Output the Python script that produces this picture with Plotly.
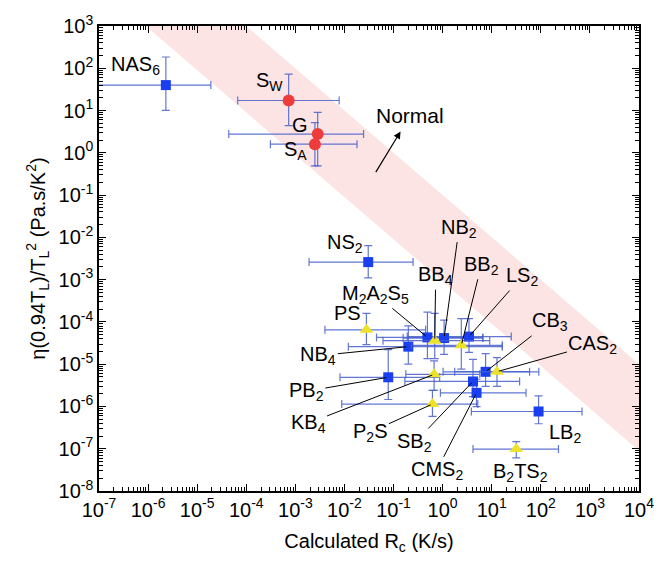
import math
import plotly.graph_objects as go

# ---------------- data ----------------
names = ["NAS6", "SW", "G", "SA", "NS2", "PS", "M2A2S5", "BB4", "NB2", "LS2", "BB2",
         "NB4", "PB2", "KB4", "P2S", "SB2", "CMS2", "CB3", "CAS2", "LB2", "B2TS2"]
groups = ["blue", "red", "red", "red", "blue", "yellow", "blue", "yellow", "blue", "blue", "yellow",
          "blue", "blue", "yellow", "yellow", "blue", "blue", "blue", "yellow", "blue", "yellow"]
rc = [2.3e-6, 7.3e-4, 2.85e-3, 2.5e-3, 0.0305, 0.028, 0.49, 0.69, 1.07, 3.44, 2.4,
      0.20, 0.078, 0.67, 0.62, 4.15, 4.9, 7.5, 12.8, 90, 31.6]
rc_low = [1e-8, 6.7e-5, 4.4e-5, 3.1e-4, 1.9e-3, 4.0e-3, 0.045, 0.061, 0.157, 0.19, 0.23,
          0.012, 8.1e-3, 0.178, 8.8e-3, 0.17, 0.9, 1.02, 1.76, 3.85, 4.15]
rc_high = [1.9e-5, 7.8e-3, 0.0245, 0.018, 0.25, 0.45, 6.6, 9.1, 6.6, 25, 16.4,
           16.4, 0.87, 5.7, 5.2, 37, 50, 91, 59, 690, 229]
eta = [40, 17.3, 2.77, 1.6, 2.6e-3, 6.5e-5, 4.3e-5, 3.6e-5, 4.15e-5, 4.5e-5, 2.8e-5,
       2.6e-5, 4.9e-6, 5.75e-6, 1.14e-6, 3.9e-6, 2.1e-6, 6.6e-6, 6.65e-6, 7.6e-7, 9.8e-8]
eta_low = [10.1, 4.4, 0.49, 0.49, 1.1e-3, 2.9e-5, 1.35e-5, 1.35e-5, 1.7e-5, 1.9e-5, 7.6e-6,
           1.0e-5, 1.46e-6, 2.4e-6, 5.8e-7, 1.7e-6, 9.9e-7, 3.0e-6, 3.0e-6, 3.9e-7, 6.05e-8]
eta_high = [185, 73, 9.1, 5.2, 6.4e-3, 1.6e-4, 1.7e-4, 1.6e-4, 1.1e-4, 1.2e-4, 1.2e-4,
            8.1e-5, 2.2e-5, 1.2e-5, 2.4e-6, 1.3e-5, 4.4e-6, 1.77e-5, 1.43e-5, 1.78e-6, 1.47e-7]
label_text = ["NAS<sub>6</sub>", "S<sub>W</sub>", "G", "S<sub>A</sub>", "NS<sub>2</sub>", "PS",
              "M<sub>2</sub>A<sub>2</sub>S<sub>5</sub>", "BB<sub>4</sub>", "NB<sub>2</sub>",
              "LS<sub>2</sub>", "BB<sub>2</sub>", "NB<sub>4</sub>", "PB<sub>2</sub>", "KB<sub>4</sub>",
              "P<sub>2</sub>S", "SB<sub>2</sub>", "CMS<sub>2</sub>", "CB<sub>3</sub>", "CAS<sub>2</sub>",
              "LB<sub>2</sub>", "B<sub>2</sub>TS<sub>2</sub>"]

# Normal-band (eta * Rc = const) and "Normal" arrow
band_low = 9e-4
band_high = 1e-1
normal_tail = (0.0417, 0.321)
normal_head = (0.139, 3.2)
normal_text_pos = (0.214, 7.64)

x_ticks = [10.0 ** k for k in range(-7, 5)]
y_ticks = [10.0 ** k for k in range(-8, 4)]

# ---------------- styles / label placement ----------------
colors = {"blue": "#1a3ff0", "red": "#ee3b3b", "yellow": "#ece22a"}
symbols = {"blue": "square", "red": "circle", "yellow": "triangle-up"}
sizes = {"blue": 10, "red": 12, "yellow": 12}
err_color = "rgba(70,95,205,0.85)"
FONT = "Arial, 'Liberation Sans', sans-serif"

# (dx, dy, leader) in pixels; dy positive = downward
label_place = {
    "NAS6": (-30, -20, False), "SW": (-19, -19, False), "G": (-18, -9, False),
    "SA": (-19, 6, False), "NS2": (-23, -19, False), "PS": (-19, -17, False),
    "LB2": (26, 22, False), "B2TS2": (4, 23, False),
    "NB2": (15, -110, True), "BB2": (20, -80, True), "LS2": (53, -60, True),
    "BB4": (1, -65, True), "M2A2S5": (-52, -43, True), "NB4": (-90, 9, True),
    "PB2": (-82, 14, True), "KB4": (-126, 49, True), "P2S": (-62, 28, True),
    "SB2": (-58, 61, True), "CMS2": (-40, 78, True), "CB3": (64, -50, True),
    "CAS2": (96, -27, True),
}

fig = go.Figure()

# band polygon
bx = [1e-9, 1e6, 1e6, 1e-9]
by = [band_high / 1e-9, band_high / 1e6, band_low / 1e6, band_low / 1e-9]
fig.add_trace(go.Scatter(x=bx, y=by, mode="lines", fill="toself",
                         fillcolor="#fde4e4", line=dict(width=0), hoverinfo="skip",
                         showlegend=False))

draw_order = ["blue", "red", "yellow"]
for g in draw_order:
    idx = [i for i, gg in enumerate(groups) if gg == g]
    xs = [rc[i] for i in idx]
    ys = [eta[i] for i in idx]
    fig.add_trace(go.Scatter(
        x=xs, y=ys, mode="markers",
        marker=dict(symbol=symbols[g], size=sizes[g], color=colors[g], line=dict(width=0)),
        error_x=dict(type="data", symmetric=False,
                     array=[rc_high[i] - rc[i] for i in idx],
                     arrayminus=[rc[i] - rc_low[i] for i in idx],
                     color=err_color, thickness=1.2, width=4),
        error_y=dict(type="data", symmetric=False,
                     array=[eta_high[i] - eta[i] for i in idx],
                     arrayminus=[eta[i] - eta_low[i] for i in idx],
                     color=err_color, thickness=1.2, width=4),
        showlegend=False, hoverinfo="skip"))

ann = []
for i, n in enumerate(names):
    dx, dy, leader = label_place[n]
    base = dict(x=math.log10(rc[i]), y=math.log10(eta[i]), xref="x", yref="y",
                text=label_text[i], font=dict(family=FONT, size=20, color="black"))
    if leader:
        base.update(showarrow=True, arrowhead=0, arrowwidth=1, arrowcolor="black",
                    ax=dx, ay=dy, standoff=2)
    else:
        base.update(showarrow=False, xshift=dx, yshift=-dy)
    ann.append(base)

ann.append(dict(x=math.log10(normal_head[0]), y=math.log10(normal_head[1]), xref="x", yref="y",
                ax=math.log10(normal_tail[0]), ay=math.log10(normal_tail[1]), axref="x", ayref="y",
                text="", showarrow=True, arrowhead=2, arrowsize=1.2, arrowwidth=1.2,
                arrowcolor="black"))
ann.append(dict(x=math.log10(normal_text_pos[0]), y=math.log10(normal_text_pos[1]),
                xref="x", yref="y", text="Normal", showarrow=False,
                font=dict(family=FONT, size=21, color="black")))


def sup_label(v):
    e = int(round(math.log10(v)))
    return "10<sup>%d</sup>" % e


def minor_vals(lo, hi):
    out = []
    for e in range(lo, hi):
        for k in range(2, 10):
            out.append(k * 10.0 ** e)
    return out


axis_common = dict(type="log", showline=True, linecolor="black", linewidth=1.5, mirror="allticks",
                   ticks="inside", ticklen=7, tickwidth=1.2, tickcolor="black",
                   showgrid=False, zeroline=False, tickmode="array",
                   tickfont=dict(family=FONT, size=20, color="black"))

fig.update_xaxes(range=[-7, 4], tickvals=x_ticks, ticktext=[sup_label(v) for v in x_ticks],
                 minor=dict(ticks="inside", ticklen=4, tickwidth=1, tickcolor="black",
                            tickmode="array", tickvals=minor_vals(-7, 4), showgrid=False),
                 title=dict(text="Calculated R<sub>c</sub> (K/s)",
                            font=dict(family=FONT, size=20, color="black"), standoff=14),
                 **axis_common)
fig.update_yaxes(range=[-8, 3], tickvals=y_ticks, ticktext=[sup_label(v) for v in y_ticks],
                 minor=dict(ticks="inside", ticklen=4, tickwidth=1, tickcolor="black",
                            tickmode="array", tickvals=minor_vals(-8, 3), showgrid=False),
                 title=dict(text="η(0.94T<sub>L</sub>)/T<sub>L</sub><sup>2</sup> (Pa.s/K<sup>2</sup>)",
                            font=dict(family=FONT, size=20, color="black"), standoff=8),
                 **axis_common)

fig.update_layout(width=668, height=561, margin=dict(l=99, r=29, t=17, b=70),
                  paper_bgcolor="white", plot_bgcolor="white", annotations=ann,
                  font=dict(family=FONT))

fig.write_html("out.html")
